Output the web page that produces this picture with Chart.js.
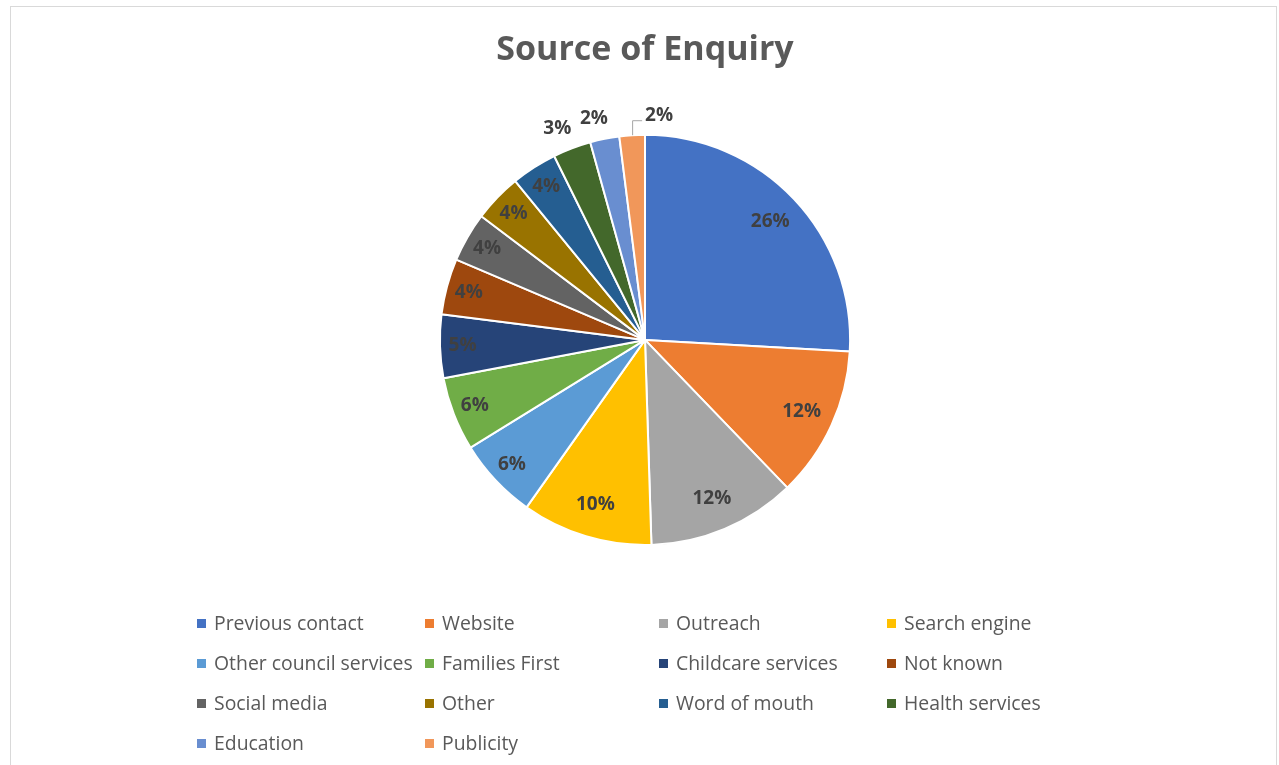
<!DOCTYPE html>
<html>
<head>
<meta charset="utf-8">
<script src="https://cdn.jsdelivr.net/npm/chart.js@4/dist/chart.umd.min.js"></script>
<style>
  body { margin: 0; background: #fff; font-family: "Open Sans", sans-serif; }
  #wrap { position: relative; width: 1279px; height: 765px; overflow: hidden; }
  #frame { position: absolute; left: 10px; top: 6px; width: 1265px; height: 800px; border: 1px solid #d9d9d9; }
  canvas { position: absolute; left: 0; top: 0; }
  .item { position: absolute; font-size: 19.4px; color: #595959; white-space: nowrap; line-height: 24px; padding-left: 17px; }
  .item i { position: absolute; left: 0; top: 8px; width: 9px; height: 9px; }
</style>
</head>
<body>
<div id="wrap">
  <div id="frame"></div>
  <canvas id="pie" width="1279" height="765"></canvas>
  <div id="legend"></div>
</div>
<script>
// --- Data ---
const sources = ['Previous contact', 'Website', 'Outreach', 'Search engine',
  'Other council services', 'Families First', 'Childcare services', 'Not known',
  'Social media', 'Other', 'Word of mouth', 'Health services', 'Education', 'Publicity'];
const shares = [25.9, 11.9, 11.7, 10.3, 6.4, 5.8, 5.0, 4.4, 3.9, 3.8, 3.6, 3.0, 2.3, 2.0];
const colours = ['#4472C4', '#ED7D31', '#A5A5A5', '#FFC000', '#5B9BD5', '#70AD47', '#264478',
  '#9E480E', '#636363', '#997300', '#255E91', '#43682B', '#698ED0', '#F1975A'];

// --- Percent labels on the slices ---
const pctLabels = {
  id: 'pctLabels',
  afterDatasetsDraw(chart) {
    const ctx = chart.ctx;
    const total = shares.reduce((a, b) => a + b, 0);
    const last = shares.length - 1;
    ctx.save();
    ctx.font = 'bold 19px "Open Sans"';
    ctx.fillStyle = '#404040';
    ctx.textAlign = 'center';
    ctx.textBaseline = 'middle';
    chart.getDatasetMeta(0).data.forEach((arc, i) => {
      const p = arc.getProps(['x', 'y', 'startAngle', 'endAngle', 'outerRadius'], true);
      const share = shares[i] / total;
      const text = Math.round(share * 100) + '%';
      const mid = (p.startAngle + p.endAngle) / 2;
      const cos = Math.cos(mid), sin = Math.sin(mid);
      if (share < 0.035 && i === last) {
        // leader line up and to the right
        const ax = p.x + cos * p.outerRadius, ay = p.y + sin * p.outerRadius;
        ctx.strokeStyle = '#a6a6a6'; ctx.lineWidth = 1;
        ctx.beginPath();
        ctx.moveTo(ax + 0.5, ay);
        ctx.lineTo(ax + 0.5, ay - 14.5);
        ctx.lineTo(ax + 10, ay - 14.5);
        ctx.stroke();
        ctx.textAlign = 'left';
        ctx.fillText(text, ax + 13, ay - 20);
        ctx.textAlign = 'center';
      } else if (share < 0.035) {
        const r = p.outerRadius + 24;
        ctx.fillText(text, p.x + cos * r - 6, p.y + sin * r + 3);
      } else {
        const r = p.outerRadius * (share >= 0.1 ? 0.84 : 0.89);
        ctx.fillText(text, p.x + cos * r, p.y + sin * r);
      }
    });
    ctx.restore();
  }
};

new Chart(document.getElementById('pie'), {
  type: 'pie',
  data: {
    labels: sources,
    datasets: [{ data: shares, backgroundColor: colours, borderColor: '#fff', borderWidth: 2 }]
  },
  options: {
    responsive: false,
    animation: false,
    layout: { padding: { top: 30, bottom: 219, left: 100, right: 89 } },
    plugins: {
      legend: { display: false },
      tooltip: { enabled: false },
      title: {
        display: true, text: 'Source of Enquiry', color: '#595959',
        font: { family: '"Open Sans"', size: 34, weight: 'bold' },
        padding: { top: 0, bottom: 63 }
      }
    }
  },
  plugins: [pctLabels]
});

// --- Legend, four columns ---
const colX = [197, 425, 659, 887];
const rowY = [623, 663, 703, 743];
const legend = document.getElementById('legend');
sources.forEach((name, i) => {
  const d = document.createElement('div');
  d.className = 'item';
  d.style.left = colX[i % 4] + 'px';
  d.style.top = (rowY[Math.floor(i / 4)] - 12) + 'px';
  d.innerHTML = '<i style="background:' + colours[i] + '"></i>' + name;
  legend.appendChild(d);
});
</script>
</body>
</html>
